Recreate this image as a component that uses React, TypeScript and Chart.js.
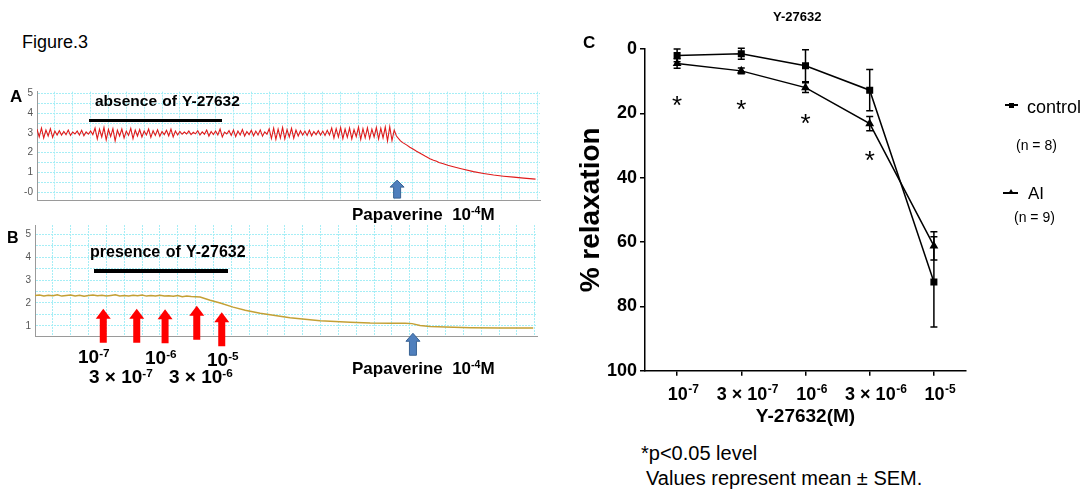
import React, { useEffect, useRef } from 'react';
import { Chart, registerables } from 'chart.js';
Chart.register(...registerables);

const FONT = '"Liberation Sans", Arial, Helvetica, sans-serif';

// ---------------- Panel A (absence of Y-27632) ----------------
// oscillating tension trace, one sample per time unit
const traceAOsc = [
  3.2, 2.8, 3.25, 2.75, 3.15, 2.85, 3.22, 2.78, 3.1, 2.9,
  3.12, 2.9, 3.08, 2.92, 3.15, 2.88, 3.05, 2.95, 3.1, 2.9, 3.14, 2.86, 3.06, 2.94, 3.1, 2.92,
  3.25, 2.7, 3.2, 2.8, 3.28, 2.65, 3.18, 2.82, 3.22, 2.6, 3.15, 2.85, 3.2, 2.75, 3.1, 2.88, 3.24, 2.72,
  3.15, 2.85, 3.18, 2.8, 3.1, 2.9, 3.2, 2.78, 3.12, 2.88, 3.16, 2.84, 3.08, 2.92, 3.14, 2.86, 3.2, 2.8, 3.1, 2.9,
  3.08, 2.94, 3.05, 2.95, 3.1, 2.92, 3.04, 2.96, 3.12, 2.9, 3.06, 2.94, 3.15, 2.85, 3.08, 2.92, 3.1, 2.9, 3.2, 2.8, 3.05, 2.95,
  3.12, 2.88, 3.15, 2.82, 3.1, 2.9, 3.18, 2.85, 3.08, 2.92, 3.14, 2.86, 3.1, 2.9, 3.16, 2.84, 3.06, 2.94,
  3.22, 2.72, 3.25, 2.68, 3.2, 2.75, 3.28, 2.7, 3.18, 2.8, 3.24, 2.74, 3.15, 2.85,
  3.12, 2.9, 3.1, 2.88, 3.15, 2.86, 3.08, 2.92, 3.12, 2.9, 3.1, 2.88, 3.14, 2.9,
  3.25, 2.75, 3.22, 2.8, 3.28, 2.72, 3.2, 2.78, 3.25, 2.7, 3.18, 2.82, 3.3, 2.68, 3.22, 2.76, 3.26, 2.72, 3.2, 2.8, 3.28, 2.7, 3.24, 2.75, 3.3, 2.6, 3.32, 2.62,
];
const traceADecayTime = [160, 161, 162.8, 164, 165.5, 167, 168.6, 170, 172, 174, 176, 177.6, 179, 180, 182, 184, 186.5, 190, 195.5, 200, 204.5, 209, 213.5, 218, 223.3];
const traceADecayValue = [3.15, 2.85, 2.6, 2.5, 2.4, 2.28, 2.18, 2.08, 1.95, 1.82, 1.7, 1.62, 1.57, 1.5, 1.44, 1.36, 1.29, 1.19, 1.04, 0.95, 0.87, 0.81, 0.76, 0.71, 0.66];
const papaverineTimeA = 161.3;
const papaverineTipA = 0.61;
const timeMaxA = 225.3;
const yRangeA = [-0.4, 5.1];

// ---------------- Panel B (presence of Y-27632) ----------------
const traceBFlatStep = 2;
const traceBFlat = [
  2.33, 2.35, 2.31, 2.34, 2.32, 2.36, 2.3, 2.33, 2.35, 2.31, 2.34, 2.29, 2.33, 2.35, 2.32, 2.34, 2.3, 2.33,
  2.36, 2.31, 2.33, 2.3, 2.34, 2.32, 2.35, 2.3, 2.33, 2.31, 2.34, 2.3, 2.32, 2.29, 2.33, 2.27, 2.3, 2.28,
];
const traceBDecayTime = [74, 78.5, 83, 88.8, 94.2, 100.9, 107.6, 114.3, 121, 127.8, 134.5, 141.3, 150.2, 159.2, 165.9, 169, 172.6, 177.1, 183.9, 195.1, 208.5, 223.3];
const traceBDecayValue = [2.26, 2.12, 2.0, 1.82, 1.68, 1.55, 1.45, 1.36, 1.29, 1.23, 1.19, 1.16, 1.13, 1.12, 1.12, 1.1, 1.02, 0.97, 0.95, 0.92, 0.91, 0.91];
const doseTimesB = [30.6, 45.6, 58.3, 72.5, 83.7];
const doseTipsB = [1.75, 1.75, 1.73, 1.88, 1.6];
const papaverineTimeB = 169.4;
const papaverineTipB = 0.68;
const timeMaxB = 225;
const yRangeB = [0.53, 5.4];

// ---------------- Panel C (concentration-response) ----------------
const concPrefix = ['', '3 × ', '', '3 × ', ''];
const concBase = ['10', '10', '10', '10', '10'];
const concExponent = ['-7', '-7', '-6', '-6', '-5'];
const controlMean = [2, 1.5, 5.2, 12.8, 72.4];
const controlSem = [2, 1.7, 5, 6.4, 14];
const aiMean = [4.5, 6.8, 12, 23.2, 61.2];
const aiSem = [1.5, 0.9, 1.5, 2.2, 4.4];
const asteriskY = [15.5, 16.9, 21.2, 32.7];

const gridColor = '#a6eef6';

const upArrow = (ctx: CanvasRenderingContext2D, x: number, yTip: number, len: number, headW: number, headH: number, shaftW: number, fill: string, stroke: string) => {
  ctx.save();
  ctx.beginPath();
  ctx.moveTo(x, yTip);
  ctx.lineTo(x + headW / 2, yTip + headH);
  ctx.lineTo(x + shaftW / 2, yTip + headH);
  ctx.lineTo(x + shaftW / 2, yTip + len);
  ctx.lineTo(x - shaftW / 2, yTip + len);
  ctx.lineTo(x - shaftW / 2, yTip + headH);
  ctx.lineTo(x - headW / 2, yTip + headH);
  ctx.closePath();
  ctx.fillStyle = fill;
  ctx.fill();
  if (stroke) {
    ctx.strokeStyle = stroke;
    ctx.lineWidth = 1;
    ctx.stroke();
  }
  ctx.restore();
};

const isInt = (v: number) => Math.abs(v - Math.round(v)) < 1e-6;

const traceScales = (tMax: number, yMin: number, yMax: number, yWidth: number, xHeight: number, zeroLabel: string) => ({
  x: {
    type: 'linear',
    min: 0,
    max: tMax,
    afterBuildTicks: (s: any) => {
      const t = [];
      for (let v = 8; v <= tMax; v += 8) t.push({ value: v });
      s.ticks = t;
    },
    ticks: { display: false },
    grid: { color: gridColor, lineWidth: 1, drawTicks: false },
    border: { color: '#9a9a9a', width: 1, dash: [2, 1] },
    afterFit: (s: any) => { s.height = xHeight; },
  },
  y: {
    type: 'linear',
    min: yMin,
    max: yMax,
    afterBuildTicks: (s: any) => {
      const t = [];
      for (let v = Math.ceil(yMin * 2) / 2; v <= yMax + 1e-9; v += 0.5) if (v > yMin + 0.05) t.push({ value: v });
      s.ticks = t;
    },
    ticks: {
      callback: (v: number) => (isInt(v) ? (Math.round(v) === 0 ? zeroLabel : String(Math.round(v))) : ''),
      font: { family: FONT, size: 10 },
      color: '#555',
      padding: 4,
      autoSkip: false,
    },
    grid: { color: gridColor, lineWidth: 1, drawTicks: false },
    border: { color: '#9a9a9a', width: 1, dash: [2, 1] },
    afterFit: (s: any) => { s.width = yWidth; },
  },
});

function TraceA() {
  const ref = useRef<HTMLCanvasElement>(null);
  useEffect(() => {
    const data = [
      ...traceAOsc.map((v, i) => ({ x: i, y: v })),
      ...traceADecayTime.map((t, i) => ({ x: t, y: traceADecayValue[i] })),
    ];
    const chart = new Chart(ref.current!, {
      type: 'line',
      data: { datasets: [{ data, borderColor: '#e01b1b', borderWidth: 1.1, pointRadius: 0, tension: 0 }] },
      options: {
        animation: false,
        responsive: false,
        devicePixelRatio: 1,
        layout: { padding: { top: 11.7, right: 5, left: 0, bottom: 0 } },
        plugins: { legend: { display: false }, tooltip: { enabled: false } },
        scales: traceScales(timeMaxA, yRangeA[0], yRangeA[1], 37, 7.5, '-0') as any,
      },
      plugins: [{
        id: 'arrowsA',
        afterDraw: (c: any) => {
          const x = c.scales.x.getPixelForValue(papaverineTimeA);
          const y = c.scales.y.getPixelForValue(papaverineTipA);
          upArrow(c.ctx, x, y, 18, 14, 7, 7, '#4f7fbd', '#3a6394');
        },
      }],
    });
    return () => chart.destroy();
  }, []);
  return <canvas ref={ref} width={545} height={130} style={{ position: 'absolute', left: 0, top: 80, width: 545, height: 130 }} />;
}

function TraceB() {
  const ref = useRef<HTMLCanvasElement>(null);
  useEffect(() => {
    const data = [
      ...traceBFlat.map((v, i) => ({ x: i * traceBFlatStep, y: v })),
      ...traceBDecayTime.map((t, i) => ({ x: t, y: traceBDecayValue[i] })),
    ];
    const chart = new Chart(ref.current!, {
      type: 'line',
      data: { datasets: [{ data, borderColor: '#c4a035', borderWidth: 1.5, pointRadius: 0, tension: 0 }] },
      options: {
        animation: false,
        responsive: false,
        devicePixelRatio: 1,
        layout: { padding: { top: 6.7, right: 8, left: 0, bottom: 0 } },
        plugins: { legend: { display: false }, tooltip: { enabled: false } },
        scales: traceScales(timeMaxB, yRangeB[0], yRangeB[1], 35, 23.3, '0') as any,
      },
      plugins: [{
        id: 'arrowsB',
        afterDraw: (c: any) => {
          doseTimesB.forEach((t, i) => {
            const x = c.scales.x.getPixelForValue(t);
            const y = c.scales.y.getPixelForValue(doseTipsB[i]);
            upArrow(c.ctx, x, y, 34, 15, 10, 7, '#ff0000', '');
          });
          const x = c.scales.x.getPixelForValue(papaverineTimeB);
          const y = c.scales.y.getPixelForValue(papaverineTipB);
          upArrow(c.ctx, x, y, 22, 14, 8, 7, '#4f7fbd', '#3a6394');
        },
      }],
    });
    return () => chart.destroy();
  }, []);
  return <canvas ref={ref} width={545} height={145} style={{ position: 'absolute', left: 0, top: 215, width: 545, height: 145 }} />;
}

function PanelC() {
  const ref = useRef<HTMLCanvasElement>(null);
  useEffect(() => {
    const mk = (m: number[]) => m.map((v, i) => ({ x: i + 1, y: v }));
    const chart = new Chart(ref.current!, {
      type: 'line',
      data: {
        datasets: [
          { label: 'control', data: mk(controlMean), borderColor: '#000', backgroundColor: '#000', borderWidth: 1.5, pointStyle: 'rect', pointRadius: 3.9, tension: 0, clip: false } as any,
          { label: 'AI', data: mk(aiMean), borderColor: '#000', backgroundColor: '#000', borderWidth: 1.5, pointStyle: 'triangle', pointRadius: 3.6, tension: 0, clip: false } as any,
        ],
      },
      options: {
        animation: false,
        responsive: false,
        devicePixelRatio: 1,
        layout: { padding: { top: 49, right: 122, left: 0, bottom: 0 } },
        plugins: { legend: { display: false }, tooltip: { enabled: false } },
        scales: {
          x: {
            type: 'linear',
            min: 0.5,
            max: 5.5,
            afterBuildTicks: (s: any) => { s.ticks = concBase.map((_, i) => ({ value: i + 1 })); },
            ticks: { display: false },
            grid: { drawOnChartArea: false, tickLength: 5, color: '#000', lineWidth: 1.5 },
            border: { color: '#000', width: 1.5 },
            title: { display: true, text: 'Y-27632(M)', font: { family: FONT, size: 19, weight: 'bold' }, color: '#000', padding: { top: 0, bottom: 4 } },
            afterFit: (s: any) => { s.height = 61.3; },
          },
          y: {
            type: 'linear',
            min: 0,
            max: 100,
            reverse: true,
            ticks: { stepSize: 20, font: { family: FONT, size: 18, weight: 'bold' }, color: '#000', padding: 3 },
            grid: { drawOnChartArea: false, tickLength: 5, color: '#000', lineWidth: 1.5 },
            border: { color: '#000', width: 1.5 },
            title: { display: true, text: '% relaxation', font: { family: FONT, size: 28, weight: 'bold' }, color: '#000', padding: 4 },
            afterFit: (s: any) => { s.width = 75; },
          },
        } as any,
      },
      plugins: [{
        id: 'errorBarsAndLabels',
        afterDatasetsDraw: (c: any) => {
          const ctx = c.ctx;
          const ys = c.scales.y;
          const xs = c.scales.x;
          ctx.save();
          ctx.strokeStyle = '#000';
          ctx.lineWidth = 1.5;
          const sets = [[controlMean, controlSem], [aiMean, aiSem]];
          sets.forEach(([m, s]) => {
            m.forEach((v, i) => {
              const x = xs.getPixelForValue(i + 1);
              const y1 = ys.getPixelForValue(v - s[i]);
              const y2 = ys.getPixelForValue(v + s[i]);
              ctx.beginPath();
              ctx.moveTo(x, y1); ctx.lineTo(x, y2);
              ctx.moveTo(x - 3.5, y1); ctx.lineTo(x + 3.5, y1);
              ctx.moveTo(x - 3.5, y2); ctx.lineTo(x + 3.5, y2);
              ctx.stroke();
            });
          });
          ctx.fillStyle = '#000';
          ctx.font = `26px ${FONT}`;
          ctx.textAlign = 'center';
          ctx.textBaseline = 'alphabetic';
          asteriskY.forEach((v, i) => {
            const x = xs.getPixelForValue(i + 1);
            const y = ys.getPixelForValue(v);
            ctx.fillText('*', x, y + 0.57 * 26);
          });
          // x tick labels with real superscripts
          const baseFont = `bold 18px ${FONT}`;
          const supFont = `bold 12px ${FONT}`;
          const baseY = c.chartArea.bottom + 29;
          ctx.textAlign = 'left';
          concBase.forEach((b, i) => {
            ctx.font = baseFont;
            const main = concPrefix[i] + b;
            const wMain = ctx.measureText(main).width;
            ctx.font = supFont;
            const wSup = ctx.measureText(concExponent[i]).width;
            const cx = xs.getPixelForValue(i + 1) + 6;
            const left = cx - (wMain + wSup) / 2;
            ctx.font = baseFont;
            ctx.fillText(main, left, baseY);
            ctx.font = supFont;
            ctx.fillText(concExponent[i], left + wMain + 0.5, baseY - 7);
          });
          ctx.restore();
        },
      }],
    });
    return () => chart.destroy();
  }, []);
  return <canvas ref={ref} width={518} height={432} style={{ position: 'absolute', left: 570, top: 0, width: 518, height: 432 }} />;
}

const supStyle: React.CSSProperties = { fontSize: '0.62em', verticalAlign: '0.55em', lineHeight: 0 };

function T(props: { x: number; y: number; size: number; bold?: boolean; children: React.ReactNode; ws?: number }) {
  return (
    <div
      style={{
        position: 'absolute', left: props.x, top: props.y, fontSize: props.size, fontWeight: props.bold ? 'bold' : 'normal',
        lineHeight: 1, whiteSpace: 'pre', fontFamily: FONT, color: '#000', wordSpacing: props.ws ?? 0,
      }}
    >
      {props.children}
    </div>
  );
}

export default function App() {
  return (
    <div style={{ position: 'absolute', left: 0, top: 0, width: 1088, height: 491, background: '#fff', overflow: 'hidden', fontFamily: FONT }}>
      <TraceA />
      <TraceB />
      <PanelC />

      <T x={22} y={33} size={18}>Figure.3</T>
      <T x={10} y={88} size={17} bold>A</T>
      <T x={7} y={230} size={16} bold>B</T>

      <T x={95} y={93.4} size={15.5} bold ws={1}>absence of Y-27632</T>
      <div style={{ position: 'absolute', left: 89, top: 118.5, width: 133, height: 3.3, background: '#000' }} />
      <T x={352} y={205.7} size={17} bold>Papaverine  10<sup style={supStyle}>-4</sup>M</T>

      <T x={90} y={244} size={16} bold ws={1}>presence of Y-27632</T>
      <div style={{ position: 'absolute', left: 94, top: 269.3, width: 134, height: 3.3, background: '#000' }} />
      <T x={78} y={347.4} size={19} bold>10<sup style={supStyle}>-7</sup></T>
      <T x={145} y={347.7} size={19} bold>10<sup style={supStyle}>-6</sup></T>
      <T x={207} y={349.7} size={19} bold>10<sup style={supStyle}>-5</sup></T>
      <T x={89} y={366.7} size={19} bold>3 × 10<sup style={supStyle}>-7</sup></T>
      <T x={169} y={366.7} size={19} bold>3 × 10<sup style={supStyle}>-6</sup></T>
      <T x={352} y={360} size={17} bold>Papaverine  10<sup style={supStyle}>-4</sup>M</T>

      <T x={583} y={34.4} size={17} bold>C</T>
      <T x={773} y={10.3} size={13} bold>Y-27632</T>

      <div style={{ position: 'absolute', left: 1005, top: 104.25, width: 13, height: 1.5, background: '#000' }} />
      <div style={{ position: 'absolute', left: 1009, top: 102.5, width: 5, height: 5, background: '#000' }} />
      <T x={1027} y={98.2} size={18}>control</T>
      <T x={1016} y={138} size={14}>(n = 8)</T>

      <div style={{ position: 'absolute', left: 1003, top: 192, width: 15, height: 1.5, background: '#000' }} />
      <div style={{ position: 'absolute', left: 1007.5, top: 188.5, width: 0, height: 0, borderLeft: '3px solid transparent', borderRight: '3px solid transparent', borderBottom: '5px solid #000' }} />
      <T x={1028} y={185} size={17}>AI</T>
      <T x={1014} y={210.3} size={14}>(n = 9)</T>

      <T x={641} y={443.2} size={20}>*p&lt;0.05 level</T>
      <T x={646} y={468} size={20}>Values represent mean ± SEM.</T>
    </div>
  );
}
